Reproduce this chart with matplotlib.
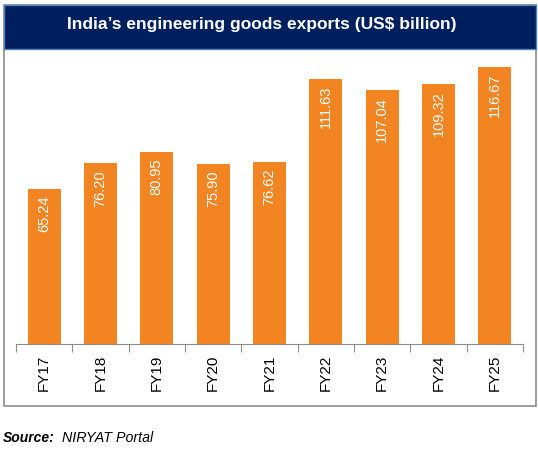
import matplotlib
matplotlib.use("Agg")
import matplotlib.pyplot as plt
from matplotlib.patches import Rectangle

years = ["FY17", "FY18", "FY19", "FY20", "FY21", "FY22", "FY23", "FY24", "FY25"]
exports = [65.24, 76.20, 80.95, 75.90, 76.62, 111.63, 107.04, 109.32, 116.67]
labels = ["65.24", "76.20", "80.95", "75.90", "76.62", "111.63", "107.04", "109.32", "116.67"]

W, H = 538, 451
plt.rcParams["font.family"] = ["Liberation Sans", "DejaVu Sans"]

fig = plt.figure(figsize=(W / 100, H / 100), dpi=100)

def px(x0, y0, x1, y1):
    # pixel box (top-left origin) -> figure fraction rect
    return [x0 / W, 1 - y1 / H, (x1 - x0) / W, (y1 - y0) / H]

# outer frame and title band
fig.patches.append(Rectangle((3.5 / W, 1 - 405.5 / H), 532 / W, 401 / H,
                             transform=fig.transFigure, fill=False,
                             edgecolor="#8c8c8c", linewidth=1.2))
fig.patches.append(Rectangle((3.5 / W, 1 - 48.5 / H), 532 / W, 44 / H,
                             transform=fig.transFigure, facecolor="#001f5f",
                             edgecolor="#4f81bd", linewidth=1))
fig.text(261.5 / W, 1 - 24 / H, "India\u2019s engineering goods exports (US$ billion)",
         color="white", fontsize=12.5, fontweight="bold", ha="center", va="center")

ax = fig.add_axes(px(16, 59, 523, 344))
x = list(range(len(years)))
ax.bar(x, exports, width=0.59, color="#f28522")
for xi, v, s in zip(x, exports, labels):
    ax.annotate(s, (xi, v), xytext=(0, -5), textcoords="offset points",
                rotation=90, ha="center", va="top", color="white", fontsize=10.5)

ax.set_xlim(-0.5, len(years) - 0.5)
ax.set_ylim(0, 120)
ax.set_yticks([])
for side in ["left", "right", "top"]:
    ax.spines[side].set_visible(False)
ax.spines["bottom"].set_color("#8c8c8c")
ax.set_xticks([i - 0.5 for i in range(len(years) + 1)], minor=False)
ax.set_xticklabels([])
ax.tick_params(axis="x", which="major", length=6, color="#8c8c8c", direction="out")
ax.set_xticks(x, minor=True)
ax.set_xticklabels(years, minor=True, rotation=90, fontsize=11)
ax.tick_params(axis="x", which="minor", length=0, pad=7.5)

fig.text(3 / W, 1 - 442 / H, "Source:", fontsize=10, fontweight="bold",
         fontstyle="italic", ha="left", va="baseline")
fig.text(62 / W, 1 - 442 / H, "NIRYAT Portal", fontsize=10.3,
         fontstyle="italic", ha="left", va="baseline")

fig.savefig("out.png", dpi=100)
